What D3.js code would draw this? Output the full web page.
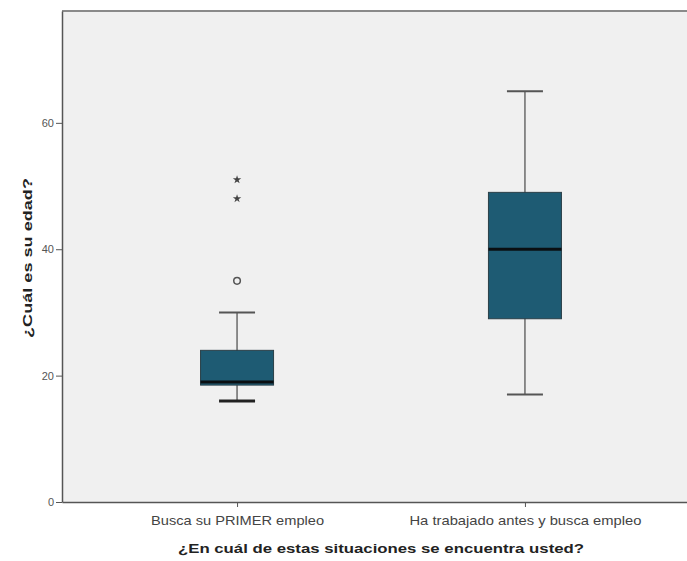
<!DOCTYPE html>
<html><head><meta charset="utf-8">
<script src="https://cdn.jsdelivr.net/npm/d3@7"></script>
<style>body{margin:0;background:#fff}svg{display:block}</style>
</head><body>
<svg id="c" width="687" height="561"></svg>
<script>
const categories = ["Busca su PRIMER empleo", "Ha trabajado antes y busca empleo"];
const whiskerLow = [16, 17];
const q1 = [18.5, 29];
const median = [19, 40];
const q3 = [24, 49];
const whiskerHigh = [30, 65];
const outliers = [{cat: 0, value: 35}];
const extremes = [{cat: 0, value: 48}, {cat: 0, value: 51}];
const yTicks = [0, 20, 40, 60];
const yTitle = "¿Cuál es su edad?";
const xTitle = "¿En cuál de estas situaciones se encuentra usted?";

(function () {
const svg = d3.select("#c");
const mL = 62, mR = 700, mT = 11, mB = 502;
const y = d3.scaleLinear().domain([0, 77.7]).range([mB, mT]);
const x = d3.scalePoint().domain(categories).range([mL, mR]).padding(0.608);
const boxW = 73, capW = 36;
const font = "Liberation Sans, Arial, sans-serif";
const catLen = [173, 232];

svg.append("rect").attr("x", mL).attr("y", mT).attr("width", mR - mL).attr("height", mB - mT).attr("fill", "#f0f0f0");
svg.append("line").attr("x1", mL).attr("x2", mR).attr("y1", mT).attr("y2", mT).attr("stroke", "#8a8a8a").attr("stroke-width", 2);

const yAxis = svg.append("g").attr("transform", `translate(${mL},0)`)
  .call(d3.axisLeft(y).tickValues(yTicks).tickSize(6).tickSizeOuter(0).tickFormat(d3.format("d")));
yAxis.select(".domain").attr("stroke", "#555").attr("stroke-width", 1.5);
yAxis.selectAll(".tick line").attr("stroke", "#555");
yAxis.selectAll(".tick text").attr("fill", "#555").attr("font-family", font).attr("font-size", 11).attr("x", -8);

const xAxis = svg.append("g").attr("transform", `translate(0,${mB})`)
  .call(d3.axisBottom(x).tickSize(5).tickSizeOuter(0));
xAxis.select(".domain").attr("stroke", "#555").attr("stroke-width", 1.5);
xAxis.selectAll(".tick line").attr("stroke", "#555");
xAxis.selectAll(".tick text").attr("fill", "#444").attr("font-family", font).attr("font-size", 13.5)
  .attr("y", 23).attr("dy", null)
  .attr("textLength", (d, i) => catLen[i]).attr("lengthAdjust", "spacingAndGlyphs");

const g = svg.append("g");
categories.forEach((c, i) => {
  const cx = x(c);
  g.append("line").attr("x1", cx).attr("x2", cx).attr("y1", y(whiskerLow[i])).attr("y2", y(whiskerHigh[i])).attr("stroke", "#555").attr("stroke-width", 1.3);
  g.append("line").attr("x1", cx - capW/2).attr("x2", cx + capW/2).attr("y1", y(whiskerLow[i])).attr("y2", y(whiskerLow[i])).attr("stroke", i === 0 ? "#222" : "#555").attr("stroke-width", i === 0 ? 3 : 2);
  g.append("line").attr("x1", cx - capW/2).attr("x2", cx + capW/2).attr("y1", y(whiskerHigh[i])).attr("y2", y(whiskerHigh[i])).attr("stroke", "#555").attr("stroke-width", 2);
  g.append("rect").attr("x", cx - boxW/2).attr("width", boxW).attr("y", y(q3[i])).attr("height", y(q1[i]) - y(q3[i]))
    .attr("fill", "#1e5b73").attr("stroke", "#2a3f48").attr("stroke-width", 1);
  g.append("line").attr("x1", cx - boxW/2).attr("x2", cx + boxW/2).attr("y1", y(median[i])).attr("y2", y(median[i])).attr("stroke", "#0a0f12").attr("stroke-width", 3);
});
outliers.forEach(o => {
  g.append("circle").attr("cx", x(categories[o.cat])).attr("cy", y(o.value)).attr("r", 3.3).attr("fill", "none").attr("stroke", "#555").attr("stroke-width", 1.5);
});
extremes.forEach(o => {
  g.append("path").attr("d", d3.symbol(d3.symbolStar, 22)()).attr("transform", `translate(${x(categories[o.cat])},${y(o.value)})`).attr("fill", "#444");
});

svg.append("text").attr("transform", `translate(27,258) rotate(-90)`).attr("text-anchor", "middle").attr("dy", "0.35em")
  .attr("font-family", font).attr("font-size", 13).attr("font-weight", "bold").attr("fill", "#222")
  .attr("textLength", 160).attr("lengthAdjust", "spacingAndGlyphs").text(yTitle);
svg.append("text").attr("x", 381).attr("y", 553).attr("text-anchor", "middle")
  .attr("font-family", font).attr("font-size", 13).attr("font-weight", "bold").attr("fill", "#222")
  .attr("textLength", 406).attr("lengthAdjust", "spacingAndGlyphs").text(xTitle);
})();
</script>
</body></html>
